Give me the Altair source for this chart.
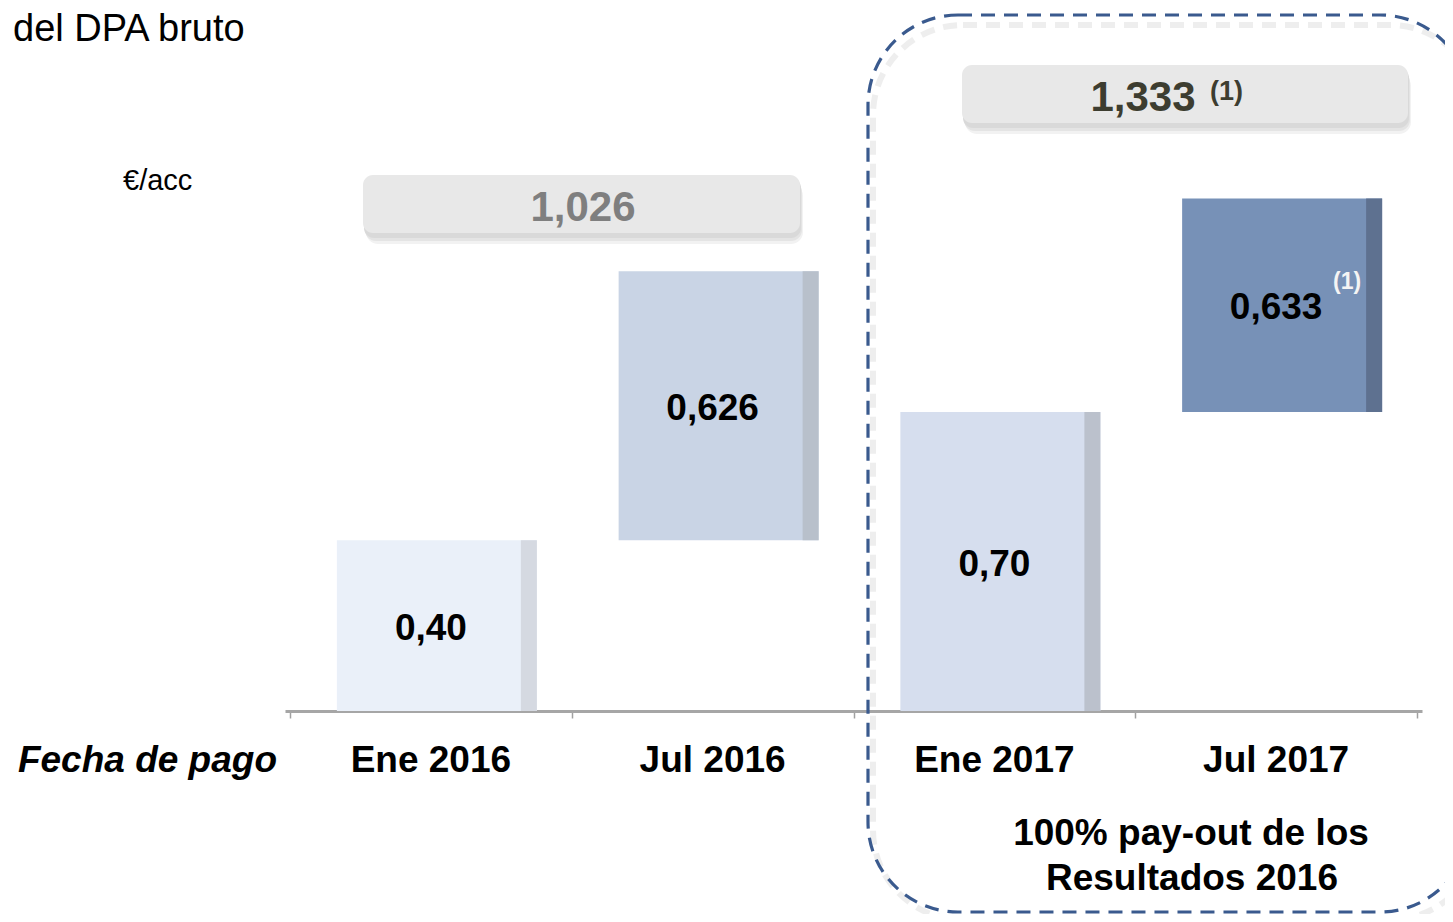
import altair as alt
import pandas as pd

# ---- data ----
categories = ["Ene 2016", "Jul 2016", "Ene 2017", "Jul 2017"]
bar_start = [0.0, 0.40, 0.0, 0.70]
bar_end = [0.40, 1.03, 0.70, 1.20]
bar_labels = ["0,40", "0,626", "0,70", "0,633"]
totals = ["1,026", "1,333"]
footnote_mark = "(1)"
unit_label = "€/acc"
axis_title = "Fecha de pago"
title_text = "del DPA bruto"
note_lines = ["100% pay-out de los", "Resultados 2016"]

# ---- styles ----
bar_colors = ["#EAF0F9", "#C9D4E5", "#D6DEEE", "#7791B7"]
edge_colors = ["#D5D9E1", "#B8C0CB", "#BBC1CC", "#5E7190"]
FONT = "Liberation Sans"

df = pd.DataFrame({"cat": categories, "start": bar_start, "end": bar_end, "label": bar_labels})
df["pos"] = df.index + 0.5
df["mid"] = (df["start"] + df["end"]) / 2

W, H = 1137, 703
PX_PER_UNIT = 427
ymax = H / PX_PER_UNIT

xenc = alt.X(
    "pos:Q",
    scale=alt.Scale(domain=[0, 4], nice=False, zero=False),
    axis=alt.Axis(values=[0, 1, 2, 3, 4], labels=False, title=None, grid=False,
                  tickSize=7, tickColor="#A0A0A0", tickWidth=1.5,
                  domainColor="#A6A6A6", domainWidth=3),
)
yscale = alt.Scale(domain=[0, ymax], nice=False, zero=False)

one = pd.DataFrame({"a": [0]})


def deco_rect(x1, x2, y1, y2, **kw):
    return alt.Chart(one).mark_rect(**kw).encode(
        x=alt.value(x1), x2=alt.value(x2), y=alt.value(y1), y2=alt.value(y2)
    )


def deco_text(txt, x, y, **kw):
    return alt.Chart(one).mark_text(text=txt, font=FONT, **kw).encode(
        x=alt.value(x), y=alt.value(y)
    )


base = alt.Chart(df)

bars = base.mark_bar(width=200, xOffset=6).encode(
    x=xenc,
    y=alt.Y("start:Q", scale=yscale, axis=None),
    y2="end:Q",
    color=alt.Color("cat:N", scale=alt.Scale(domain=categories, range=bar_colors), legend=None),
)
edges = base.mark_bar(width=16, xOffset=98).encode(
    x=xenc,
    y=alt.Y("start:Q", scale=yscale, axis=None),
    y2="end:Q",
    color=alt.Color("cat:N", scale=alt.Scale(domain=categories, range=edge_colors), legend=None),
)
value_text = base.mark_text(font=FONT, fontSize=37, fontWeight="bold", color="#000000",
                            baseline="middle", dy=3).encode(
    x=xenc,
    y=alt.Y("mid:Q", scale=yscale, axis=None),
    text="label:N",
)
cat_text = base.mark_text(font=FONT, fontSize=37, fontWeight="bold", color="#000000",
                          baseline="middle").encode(
    x=xenc,
    y=alt.value(753),
    text="cat:N",
)

dash = [14, 9]
box_shadow = deco_rect(588, 1195, 17, 912, fill="transparent", stroke="#D0D0D0",
                       strokeWidth=6, strokeDash=dash, cornerRadius=90, opacity=0.35)
box = deco_rect(583, 1185, 7, 904, fill="transparent", stroke="#3A5A8E",
                strokeWidth=3.2, strokeDash=dash, cornerRadius=90)

# grey total boxes with soft shadow
t1_sh3 = deco_rect(81, 518, 176, 236, fill="#F2F2F2", cornerRadius=12)
t1_sh2 = deco_rect(80, 517, 173, 233, fill="#E4E4E4", cornerRadius=11)
t1_sh = deco_rect(79, 516, 170, 230, fill="#D9D9D9", cornerRadius=10)
t1 = deco_rect(78, 515, 167, 225, fill="#E8E8E8", cornerRadius=10)
t2_sh3 = deco_rect(680, 1126, 66, 126, fill="#F2F2F2", cornerRadius=12)
t2_sh2 = deco_rect(679, 1125, 63, 123, fill="#E4E4E4", cornerRadius=11)
t2_sh = deco_rect(678, 1124, 60, 120, fill="#D9D9D9", cornerRadius=10)
t2 = deco_rect(677, 1123, 57, 115, fill="#E8E8E8", cornerRadius=10)

tot1 = deco_text(totals[0], 298, 200, fontSize=42, fontWeight="bold", color="#7F7F7F",
                 baseline="middle", align="center")
tot2 = deco_text(totals[1], 858, 90, fontSize=42, fontWeight="bold", color="#3D3D30",
                 baseline="middle", align="center")
tot2_sup = deco_text(footnote_mark, 925, 84, fontSize=27, fontWeight="bold", color="#3D3D30",
                     baseline="middle", align="left")
bar_sup = deco_text(footnote_mark, 1048, 274, fontSize=23, fontWeight="bold", color="#F4F4F4",
                    baseline="middle", align="left")

title = deco_text(title_text, -272, 33, fontSize=38, color="#000000", baseline="alphabetic",
                  align="left")
unit = deco_text(unit_label, -162, 173, fontSize=29, color="#000000", baseline="middle",
                 align="left")
ax_title = deco_text(axis_title, -8, 753, fontSize=37, fontWeight="bold", fontStyle="italic",
                     color="#000000", baseline="middle", align="right")
note1 = deco_text(note_lines[0], 906, 826, fontSize=37, fontWeight="bold", color="#000000",
                  baseline="middle", align="center")
note2 = deco_text(note_lines[1], 907, 871, fontSize=37, fontWeight="bold", color="#000000",
                  baseline="middle", align="center")

chart = alt.layer(
    box_shadow, box,
    t1_sh3, t1_sh2, t1_sh, t1, t2_sh3, t2_sh2, t2_sh, t2,
    bars, edges, value_text, cat_text,
    tot1, tot2, tot2_sup, bar_sup,
    title, unit, ax_title, note1, note2,
).resolve_scale(color="independent").properties(
    width=W, height=H,
    autosize=alt.AutoSizeParams(type="none"),
    padding={"left": 277, "top": 0, "right": 23, "bottom": 203},
    background="white",
).configure_view(stroke=None)

chart.save("out.html", embed_options={"renderer": "svg", "actions": False})
